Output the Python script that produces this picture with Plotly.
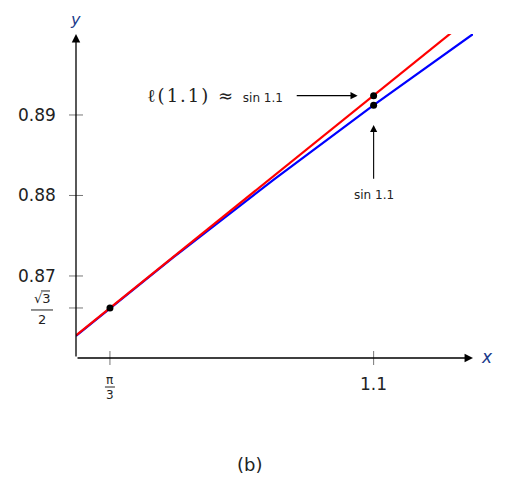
import plotly.graph_objects as go

# values
sin_x = [1.0404, 1.06, 1.08, 1.10, 1.12]
sin_y = [0.86255, 0.87236, 0.88196, 0.89121, 0.90010]
tan_x = [1.0404, 1.12]
tan_y = [0.86263, 0.90243]

pt_x = [1.047198, 1.1, 1.1]
pt_y = [0.866025, 0.89240, 0.89121]

y_ticks = [0.87, 0.88, 0.89]
y_labels = ["0.87", "0.88", "0.89"]
x_ticks = [1.047198, 1.1]

x_min, x_max = 1.0404, 1.1199
y_min, y_max = 0.85981, 0.90006

# plot area is 397 x 324 px; helpers to go from data to paper fractions
W, H = 397, 324


def fx(v):
    return (v - x_min) / (x_max - x_min)


def fy(v):
    return (v - y_min) / (y_max - y_min)


txt = dict(family="DejaVu Sans", size=17, color="#222")
small = dict(family="DejaVu Sans", size=12, color="#222")
frac = dict(family="DejaVu Sans", size=13, color="#222")

fig = go.Figure()

fig.add_trace(go.Scatter(x=sin_x, y=sin_y, mode="lines",
                         line=dict(color="#0000ff", width=2.2)))
fig.add_trace(go.Scatter(x=tan_x, y=tan_y, mode="lines",
                         line=dict(color="#ff0000", width=2.2)))
fig.add_trace(go.Scatter(x=pt_x, y=pt_y, mode="markers", cliponaxis=False,
                         marker=dict(color="black", size=7)))

ann = []
shapes = []


def seg(x0, y0, x1, y1, color="#222", width=1):
    # coordinates in paper units
    shapes.append(dict(type="line", xref="paper", yref="paper", x0=x0, y0=y0,
                       x1=x1, y1=y1, line=dict(color=color, width=width)))


def label(x, y, text, font, **kw):
    d = dict(x=x, y=y, xref="paper", yref="paper", text=text,
             showarrow=False, font=font, xanchor="center", yanchor="middle")
    d.update(kw)
    ann.append(d)


# axes with arrows
ann.append(dict(x=x_max, y=y_min, ax=x_min, ay=y_min, xref="x", yref="y",
                axref="x", ayref="y", text="", showarrow=True, arrowhead=2,
                arrowsize=1.3, arrowwidth=1.3, arrowcolor="black", standoff=0))
ann.append(dict(x=x_min, y=y_max, ax=x_min, ay=y_min, xref="x", yref="y",
                axref="x", ayref="y", text="", showarrow=True, arrowhead=2,
                arrowsize=1.3, arrowwidth=1.3, arrowcolor="black", standoff=0))
axis_font = dict(family="DejaVu Sans", size=17, color="#1a3a8a")
label(1, 0, "<i>x</i>", axis_font, xanchor="left", xshift=6, yshift=1)
label(0, 1, "<i>y</i>", dict(axis_font, size=16), yanchor="top", yshift=25,
      xshift=-1, borderpad=0)

# ticks crossing the axes
for v in y_ticks + [pt_y[0]]:
    seg(-7 / W, fy(v), 7 / W, fy(v), color="#777")
for v in x_ticks:
    seg(fx(v), -7 / H, fx(v), 7 / H, color="#777")

for v, t in zip(y_ticks, y_labels):
    label(0, fy(v), t, txt, xanchor="right", xshift=-18)
label(fx(x_ticks[1]), 0, "1.1", txt, yanchor="top", yshift=-14)

# sqrt(3)/2 fraction
cx = -34 / W
cy = fy(pt_y[0])
label(cx, cy, "√3", frac, yanchor="bottom", yshift=0)
label(cx, cy, "2", frac, yanchor="top", yshift=-2)
seg(cx - 11 / W, cy - 2 / H, cx + 11 / W, cy - 2 / H)
seg(cx - 1 / W, cy + 17 / H, cx + 8 / W, cy + 17 / H)

# pi/3 fraction
cx = fx(x_ticks[0])
label(cx, 0, "π", small, yanchor="top", yshift=-13)
label(cx, 0, "3", small, yanchor="top", yshift=-28)
seg(cx - 5 / W, -29 / H, cx + 5 / W, -29 / H)

# callouts
ann.append(dict(x=1.0968, y=pt_y[1], ax=1.0843, ay=pt_y[1], xref="x", yref="y",
                axref="x", ayref="y", text="", showarrow=True, arrowhead=2,
                arrowsize=1.3, arrowwidth=1.1, arrowcolor="black", standoff=0))
ann.append(dict(x=1.0843, y=pt_y[1], xref="x", yref="y",
                text="<span style='font-family:DejaVu Serif;font-size:18px;letter-spacing:2px'>ℓ(1.1) ≈ </span>sin 1.1",
                showarrow=False, xanchor="right", xshift=-10, font=small))
ann.append(dict(x=1.1, y=0.88877, ax=1.1, ay=0.8819, xref="x", yref="y",
                axref="x", ayref="y", text="", showarrow=True, arrowhead=2,
                arrowsize=1.3, arrowwidth=1.1, arrowcolor="black", standoff=0))
ann.append(dict(x=1.1, y=0.8819, xref="x", yref="y", text="sin 1.1",
                showarrow=False, xanchor="center", yanchor="top", yshift=-6,
                font=small))

label(0.438, -0.330, "(b)", dict(family="DejaVu Sans", size=18, color="#222"))

fig.update_layout(
    width=516, height=491,
    margin=dict(l=68, r=51, t=26, b=141),
    plot_bgcolor="white", paper_bgcolor="white",
    showlegend=False,
    xaxis=dict(range=[x_min, x_max], showgrid=False, zeroline=False,
               showticklabels=False, showline=False, ticks=""),
    yaxis=dict(range=[y_min, y_max], showgrid=False, zeroline=False,
               showticklabels=False, showline=False, ticks=""),
    annotations=ann, shapes=shapes,
)

fig.write_html("out.html")
